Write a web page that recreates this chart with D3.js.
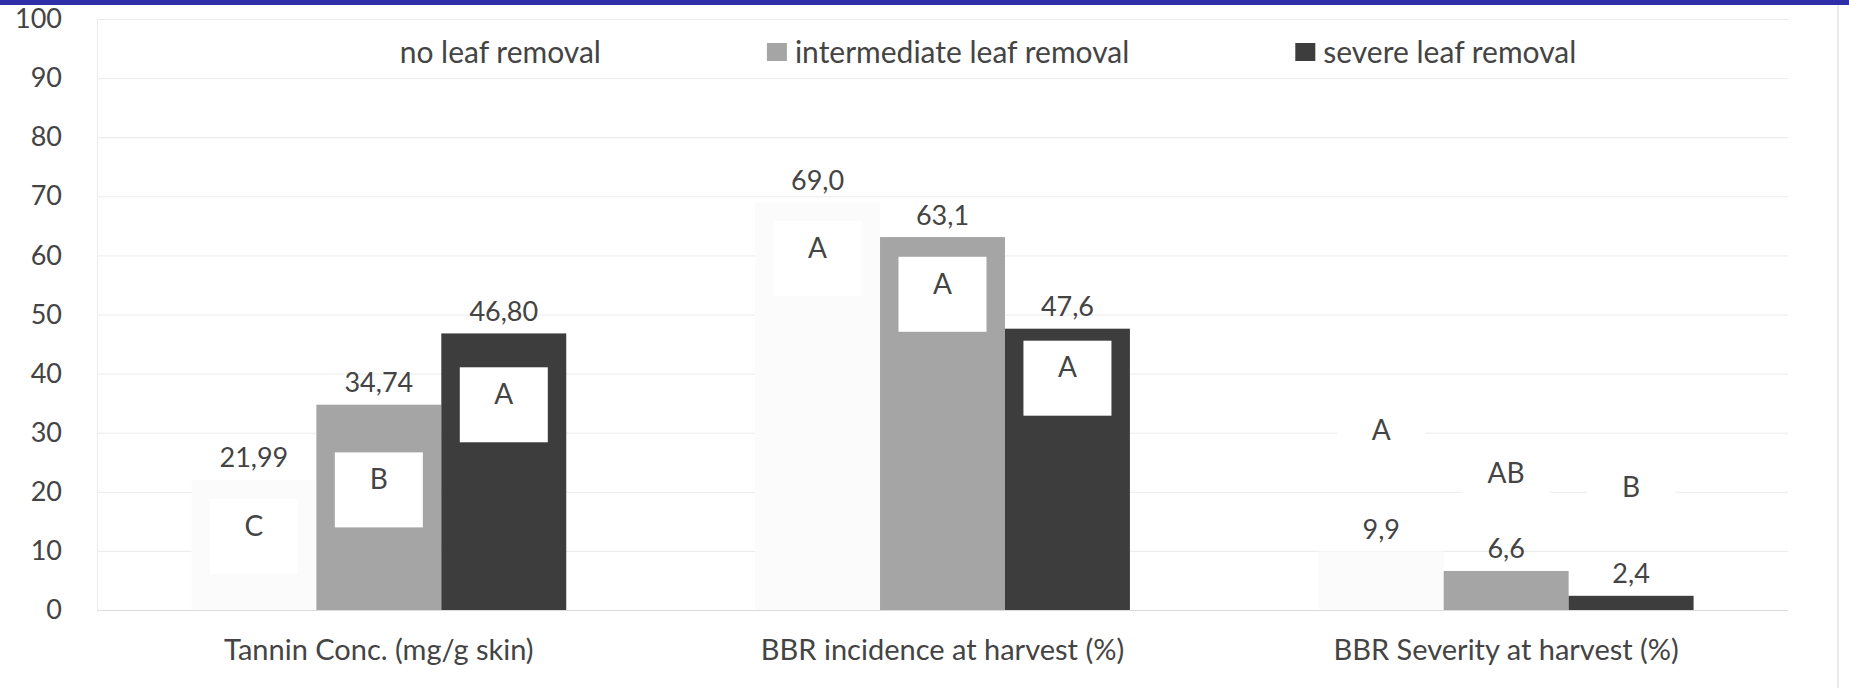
<!DOCTYPE html>
<html>
<head>
<meta charset="utf-8">
<script src="https://cdn.jsdelivr.net/npm/d3@7"></script>
<style>
  body { margin: 0; background: #fff; }
  svg text { font-family: Lato, "Open Sans", sans-serif; fill: #444; }
</style>
</head>
<body>
<svg id="chart" width="1849" height="688"></svg>
<script>
// chart data
var categories = ["Tannin Conc. (mg/g skin)", "BBR incidence at harvest (%)", "BBR Severity at harvest (%)"];
var series = ["no leaf removal", "intermediate leaf removal", "severe leaf removal"];
var values = [
  [21.99, 34.74, 46.80],
  [69.0, 63.1, 47.6],
  [9.9, 6.6, 2.4]
];
var decimals = [2, 1, 1];
var letters = [
  ["C", "B", "A"],
  ["A", "A", "A"],
  ["A", "AB", "B"]
];
// height (in axis units) where each significance letter sits
var letterAt = [
  [14.2, 22.1, 36.5],
  [61.3, 55.2, 41.0],
  [30.4, 23.1, 20.8]
];
var yTicks = [0, 10, 20, 30, 40, 50, 60, 70, 80, 90, 100];

var colors = ["#fbfbfb", "#a5a5a5", "#3d3d3d"];

var svg = d3.select("#chart");
var pLeft = 97, pRight = 1788, pTop = 19, pBottom = 610;

var locale = d3.formatLocale({decimal: ",", thousands: ".", grouping: [3], currency: ["", ""]});

// slide header band
svg.append("rect").attr("x", 0).attr("y", 0).attr("width", 1849).attr("height", 5).style("fill", "#2e2ea8");
svg.append("line").attr("x1", 1838).attr("x2", 1838).attr("y1", 5).attr("y2", 688)
  .style("stroke", "#e4e4e4").style("stroke-width", 1.5);

var x0 = d3.scaleBand().domain(categories).range([pLeft, pRight]).paddingInner(0.335).paddingOuter(0.1675);
var x1 = d3.scaleBand().domain(series).range([0, x0.bandwidth()]);
var y = d3.scaleLinear().domain([0, 100]).range([pBottom, pTop]);

// y axis + gridlines
var yAxis = svg.append("g").attr("transform", "translate(" + pLeft + ",0)")
  .call(d3.axisLeft(y).tickValues(yTicks).tickSize(-(pRight - pLeft)).tickPadding(35));
yAxis.select(".domain").style("stroke", "#ececec");
yAxis.selectAll(".tick line").style("stroke", "#ebebeb");
yAxis.selectAll(".tick text").style("font-size", "27px").style("font-family", "Lato, sans-serif").style("fill", "#444");

// x axis
var xAxis = svg.append("g").attr("transform", "translate(0," + pBottom + ")")
  .call(d3.axisBottom(x0).tickSize(0).tickPadding(29));
xAxis.select(".domain").style("stroke", "#dcdcdc");
xAxis.selectAll(".tick text").style("font-size", "29px").style("font-family", "Lato, sans-serif").style("fill", "#444");

// bars
var groups = svg.append("g").selectAll("g")
  .data(categories)
  .enter().append("g")
  .attr("transform", function(c){ return "translate(" + x0(c) + ",0)"; });

groups.selectAll("rect.bar")
  .data(function(c, i){ return values[i].map(function(v, j){ return {v: v, s: series[j], j: j, i: i}; }); })
  .enter().append("rect")
  .attr("class", "bar")
  .attr("x", function(d){ return x1(d.s); })
  .attr("y", function(d){ return y(d.v); })
  .attr("width", x1.bandwidth())
  .attr("height", function(d){ return y(0) - y(d.v); })
  .style("fill", function(d){ return colors[d.j]; });

// value labels
groups.selectAll("text.val")
  .data(function(c, i){ return values[i].map(function(v, j){ return {v: v, s: series[j], i: i}; }); })
  .enter().append("text")
  .attr("class", "val")
  .attr("x", function(d){ return x1(d.s) + x1.bandwidth() / 2; })
  .attr("y", function(d){ return y(d.v) - 22; })
  .attr("dy", "0.35em")
  .attr("text-anchor", "middle")
  .style("font-size", "27px")
  .text(function(d){ return locale.format("." + decimals[d.i] + "f")(d.v); });

// significance letters in white boxes
var boxW = 88, boxH = 75;
var lg = groups.selectAll("g.letter")
  .data(function(c, i){ return letters[i].map(function(l, j){ return {l: l, s: series[j], at: letterAt[i][j]}; }); })
  .enter().append("g")
  .attr("class", "letter");
lg.append("rect")
  .attr("x", function(d){ return x1(d.s) + (x1.bandwidth() - boxW) / 2; })
  .attr("y", function(d){ return y(d.at) - 27; })
  .attr("width", boxW)
  .attr("height", boxH)
  .style("fill", "#fff");
lg.append("text")
  .attr("x", function(d){ return x1(d.s) + x1.bandwidth() / 2; })
  .attr("y", function(d){ return y(d.at); })
  .attr("dy", "0.35em")
  .attr("text-anchor", "middle")
  .style("font-size", "28px")
  .text(function(d){ return d.l; });

// legend
var legend = svg.append("g");
var items = legend.selectAll("g").data(series).enter().append("g");
items.append("rect")
  .attr("width", 20).attr("height", 18).attr("y", 43)
  .style("fill", function(d, i){ return i == 0 ? "#fff" : colors[i]; });
items.append("text")
  .attr("x", 28).attr("y", 52).attr("dy", "0.35em")
  .style("font-size", "30px")
  .text(function(d){ return d; });
var pos, gap = 166, widths = [];
items.each(function(){ widths.push(this.getBBox().width); });
var total = d3.sum(widths) + gap * (widths.length - 1);
pos = 974 - total / 2;
items.attr("transform", function(d, i){
  var t = "translate(" + pos + ",0)";
  pos += widths[i] + gap;
  return t;
});
</script>
</body>
</html>
